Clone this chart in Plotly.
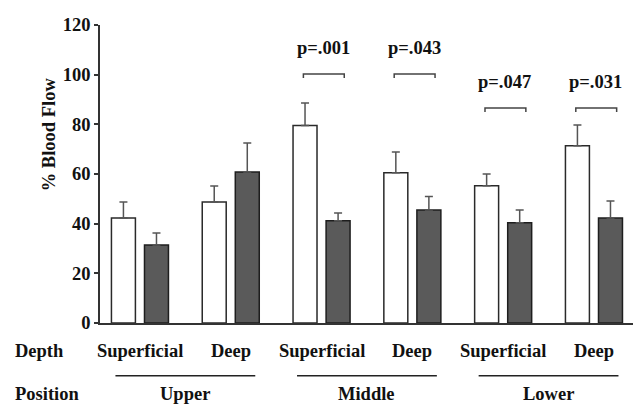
import plotly.graph_objects as go

# ---- data ----
positions = ["Upper", "Middle", "Lower"]
depths = ["Superficial", "Deep", "Superficial", "Deep", "Superficial", "Deep"]
white_vals = [42.3, 48.7, 79.5, 60.5, 55.3, 71.4]
white_err = [6.4, 6.5, 9.1, 8.4, 4.7, 8.3]
dark_vals = [31.4, 60.8, 41.2, 45.5, 40.4, 42.3]
dark_err = [4.8, 11.7, 3.1, 5.4, 5.1, 6.8]
p_labels = ["p=.001", "p=.043", "p=.047", "p=.031"]
p_groups = [2, 3, 4, 5]
p_bracket_top = [100.3, 100.3, 86.6, 86.6]
y_ticks = [0, 20, 40, 60, 80, 100, 120]

FONT = "Liberation Serif"
TXT = "#111111"
idx = list(range(len(depths)))
bw = 0.264
sep = 0.182

fig = go.Figure()
fig.add_trace(go.Bar(
    x=idx, y=white_vals, width=bw, offset=-sep - bw / 2,
    marker=dict(color="white", line=dict(color="#2a2a2a", width=1.5)),
    error_y=dict(type="data", symmetric=False, array=white_err,
                 arrayminus=[0] * 6, color="#555555", thickness=1.5, width=4),
    showlegend=False,
))
fig.add_trace(go.Bar(
    x=idx, y=dark_vals, width=bw, offset=sep - bw / 2,
    marker=dict(color="#5a5a5a", line=dict(color="#1e1e1e", width=1.5)),
    error_y=dict(type="data", symmetric=False, array=dark_err,
                 arrayminus=[0] * 6, color="#555555", thickness=1.5, width=4),
    showlegend=False,
))

annotations = []
shapes = []
font = dict(family=FONT, size=18.5, color=TXT, weight="bold")

# p-value brackets and labels
for g, lab, top in zip(p_groups, p_labels, p_bracket_top):
    x0, x1 = g - 0.2, g + 0.25
    shapes.append(dict(type="path", xref="x", yref="y",
                       path=f"M {x0},{top - 1.6} L {x0},{top} L {x1},{top} L {x1},{top - 1.6}",
                       line=dict(color="#444444", width=1.5)))
    annotations.append(dict(x=g + 0.02, y=top + 10.5, xref="x", yref="y",
                            text=lab, showarrow=False, font=font))

# depth labels
for i, d in enumerate(depths):
    annotations.append(dict(x=i, y=-0.094, xref="x", yref="paper", text=d,
                            showarrow=False, font=font, yanchor="middle"))
annotations.append(dict(x=-0.163, y=-0.094, xref="paper", yref="paper", text="Depth",
                        showarrow=False, font=font, xanchor="left", yanchor="middle"))

# position labels and lines
for k, p in enumerate(positions):
    c = 2 * k + 0.5
    shapes.append(dict(type="line", xref="x", yref="paper", x0=c - 0.77, x1=c + 0.77,
                       y0=-0.177, y1=-0.177, line=dict(color="#222222", width=1.5)))
    annotations.append(dict(x=c, y=-0.238, xref="x", yref="paper", text=p,
                            showarrow=False, font=font, yanchor="middle"))
annotations.append(dict(x=-0.163, y=-0.238, xref="paper", yref="paper", text="Position",
                        showarrow=False, font=font, xanchor="left", yanchor="middle"))

# y title
annotations.append(dict(x=0, y=76, xref="paper", yref="y", xshift=-51,
                        text="% Blood Flow", textangle=-90, showarrow=False,
                        font=font, xanchor="center", yanchor="middle"))

fig.update_layout(
    width=633, height=404,
    margin=dict(l=100, r=0, t=25, b=81),
    paper_bgcolor="white", plot_bgcolor="white",
    barmode="overlay",
    annotations=annotations, shapes=shapes,
    xaxis=dict(range=[-0.44, 5.43], showticklabels=False, ticks="",
               showgrid=False, zeroline=False, showline=True,
               linecolor="#333333", linewidth=1.5),
    yaxis=dict(range=[0, 120], tickvals=y_ticks, ticks="outside", ticklen=4,
               tickcolor="#333333", tickwidth=1.5,
               showgrid=False, zeroline=False, showline=True,
               linecolor="#333333", linewidth=1.5,
               tickfont=font),
)

fig.write_html("out.html", config={"displayModeBar": False},
               post_script="document.body.style.margin='0';")
